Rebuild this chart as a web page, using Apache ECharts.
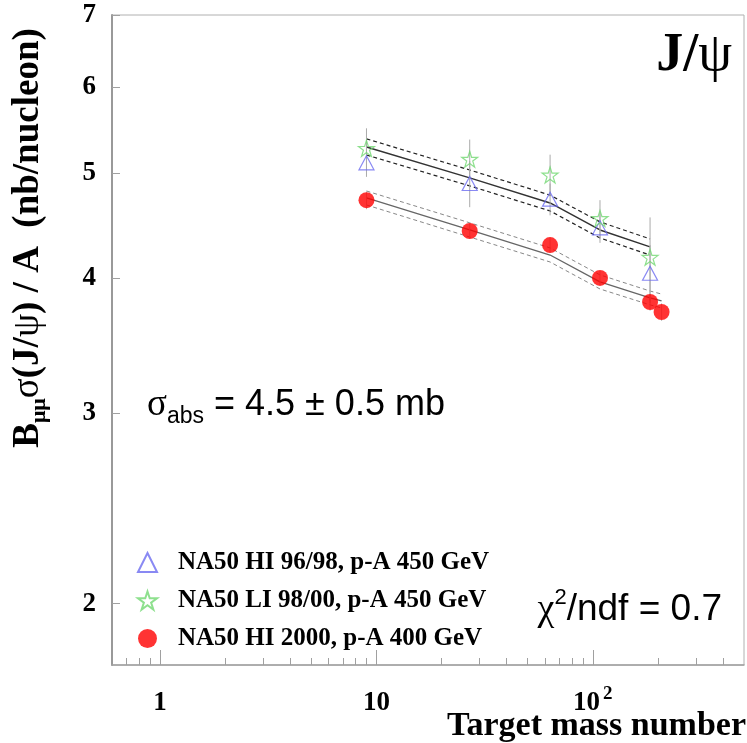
<!DOCTYPE html>
<html><head><meta charset="utf-8">
<script src="https://cdn.jsdelivr.net/npm/echarts@6/dist/echarts.min.js"></script>
<style>html,body{margin:0;padding:0;background:#fff}#c{width:747px;height:743px}</style>
</head><body><div id="c"></div>
<script>
// ---- data ----
const massNumbers450 = [9, 27, 63.5, 108, 184];
const massNumbers400 = [9, 27, 63.5, 108, 184, 208];
const hi9698 = [5.11, 4.89, 4.73, 4.45, 4.04];
const hi9698Err = [0.15, 0.24, 0.16, 0.14, 0.25];
const li9800 = [5.27, 5.15, 4.98, 4.54, 4.18];
const li9800Err = [0.23, 0.22, 0.22, 0.18, 0.37];
const hi2000 = [4.72, 4.42, 4.29, 4.00, 3.80, 3.72];
const hi2000Err = [0.09, 0.07, 0.07, 0.06, 0.07, 0.07];
const fit450 = [5.285, 4.949, 4.692, 4.430, 4.273];
const fit450Hi = [5.378, 5.033, 4.771, 4.507, 4.346];
const fit450Lo = [5.196, 4.866, 4.613, 4.355, 4.200];
const fit400 = [4.742, 4.430, 4.200, 3.966, 3.833, 3.810];
const fit400Hi = [4.813, 4.498, 4.264, 4.026, 3.890, 3.865];
const fit400Lo = [4.672, 4.364, 4.138, 3.907, 3.777, 3.753];
const xMajorTicks = [1, 10, 100];
const xMinorTicks = [0.7, 0.8, 0.9, 2, 3, 4, 5, 6, 7, 8, 9, 20, 30, 40, 50, 60, 70, 80, 90, 200, 300, 400];
const yTicks = [2, 3, 4, 5, 6, 7];
const legendNames = ['NA50 HI 96/98, p-A 450 GeV', 'NA50 LI 98/00, p-A 450 GeV', 'NA50 HI 2000, p-A 400 GeV'];

const SERIF = '"Liberation Serif", "DejaVu Serif", serif';
const SANS = '"Liberation Sans", Arial, sans-serif';
const STAR = 'path://M50 0 L61.2 34.55 L97.55 34.55 L68.1 55.9 L79.4 90.45 L50 69.1 L20.6 90.45 L31.9 55.9 L2.45 34.55 L38.8 34.55 Z';

const pairs = (xs, ys) => xs.map((x, i) => [x, ys[i]]);

function errSeries(xs, ys, es, color) {
  return {
    type: 'custom', silent: true, z: 3,
    data: xs.map((x, i) => [x, ys[i] - es[i], ys[i] + es[i]]),
    encode: { x: 0, y: [1, 2] },
    renderItem(params, api) {
      const p1 = api.coord([api.value(0), api.value(1)]);
      const p2 = api.coord([api.value(0), api.value(2)]);
      return { type: 'line', shape: { x1: p1[0], y1: p1[1], x2: p2[0], y2: p2[1] },
               style: { stroke: color, lineWidth: 1 } };
    }
  };
}
function lineSeries(xs, ys, color, width, type) {
  return { type: 'line', data: pairs(xs, ys), symbol: 'none', silent: true, z: 2,
           lineStyle: { color: color, width: width, type: type } };
}

const chart = echarts.init(document.getElementById('c'), null, { renderer: 'canvas' });
chart.setOption({
  animation: false,
  backgroundColor: '#fff',
  grid: { left: 112, top: 15, right: 3, bottom: 78, show: true, borderColor: '#b0b0b0', borderWidth: 1 },
  xAxis: [
    { type: 'log', min: 0.6, max: 500, position: 'bottom',
      axisLine: { show: true, lineStyle: { color: '#a0a0a0', width: 1.5 } },
      axisTick: { show: true, inside: true, length: 15, customValues: xMajorTicks, lineStyle: { color: '#a0a0a0', width: 1 } },
      axisLabel: { show: true, customValues: xMajorTicks, margin: 20,
        formatter: v => v >= 100 ? '{b|10}{s|2}' : '{b|' + v + '}',
        rich: { b: { fontFamily: SERIF, fontWeight: 'bold', fontSize: 27, color: '#000', lineHeight: 32, verticalAlign: 'bottom' },
                s: { fontFamily: SERIF, fontWeight: 'bold', fontSize: 19, color: '#000', lineHeight: 32, verticalAlign: 'top', padding: [0, 0, 0, 3] } } },
      splitLine: { show: false }, minorTick: { show: false } },
    { type: 'log', min: 0.6, max: 500, position: 'bottom',
      axisLine: { show: false },
      axisTick: { show: true, inside: true, length: 7, customValues: xMinorTicks, lineStyle: { color: '#a0a0a0', width: 1 } },
      axisLabel: { show: false },
      splitLine: { show: false } }
  ],
  yAxis: {
    type: 'log', min: 1.755, max: 7,
    axisLine: { show: true, lineStyle: { color: '#999', width: 2 } },
    axisTick: { show: true, inside: true, length: 8, customValues: yTicks, lineStyle: { color: '#a0a0a0', width: 1 } },
    axisLabel: { show: true, customValues: yTicks, margin: 16, fontFamily: SERIF, fontWeight: 'bold', fontSize: 27, color: '#000' },
    splitLine: { show: false }
  },
  legend: {
    orient: 'vertical', left: 132, top: 545, itemWidth: 19, itemHeight: 19, itemGap: 13,
    data: legendNames,
    textStyle: { fontFamily: SERIF, fontWeight: 'bold', fontSize: 25, color: '#000', lineHeight: 25, padding: [0, 0, 0, 16] }
  },
  series: [
    lineSeries(massNumbers450, fit450Hi, '#222', 1.2, [4, 3]),
    lineSeries(massNumbers450, fit450, '#333', 1.5, 'solid'),
    lineSeries(massNumbers450, fit450Lo, '#222', 1.2, [4, 3]),
    lineSeries(massNumbers400, fit400Hi, '#888', 1, [4, 3]),
    lineSeries(massNumbers400, fit400, '#666', 1.3, 'solid'),
    lineSeries(massNumbers400, fit400Lo, '#888', 1, [4, 3]),
    errSeries(massNumbers450, li9800, li9800Err, '#aaa'),
    errSeries(massNumbers450, hi9698, hi9698Err, '#aaa'),
    errSeries(massNumbers400, hi2000, hi2000Err, '#bbb'),
    { name: legendNames[0], type: 'scatter', z: 5, data: pairs(massNumbers450, hi9698), symbol: 'triangle', symbolSize: [15, 14],
      itemStyle: { color: 'rgba(0,0,0,0)', borderColor: '#6b6bf0', borderWidth: 1.2 } },
    { name: legendNames[1], type: 'scatter', z: 5, data: pairs(massNumbers450, li9800), symbol: STAR, symbolSize: 16,
      itemStyle: { color: 'rgba(0,0,0,0)', borderColor: '#72d872', borderWidth: 1.2 } },
    { name: legendNames[2], type: 'scatter', z: 6, data: pairs(massNumbers400, hi2000), symbol: 'circle', symbolSize: 16,
      itemStyle: { color: '#ff0000' } }
  ],
  graphic: [
    { type: 'text', x: 28, y: 238, rotation: Math.PI / 2,
      style: { text: '{b|B}{sub|μμ}{g|σ}{b|(J/}{g|ψ}{b|) / A  (nb/nucleon)}', align: 'center', verticalAlign: 'middle',
        rich: { b: { fontFamily: SERIF, fontWeight: 'bold', fontSize: 37, fill: '#000', lineHeight: 44, verticalAlign: 'middle' },
                g: { fontFamily: SERIF, fontSize: 37, fill: '#000', lineHeight: 44, verticalAlign: 'middle' },
                sub: { fontFamily: SERIF, fontWeight: 'bold', fontSize: 22, fill: '#000', lineHeight: 44, verticalAlign: 'bottom' } } } },
    { type: 'text', x: 746, y: 726,
      style: { text: 'Target mass number', font: 'bold 34px ' + SERIF, fill: '#000', align: 'right', verticalAlign: 'middle' } },
    { type: 'text', x: 732, y: 56,
      style: { text: '{b|J/}{g|ψ}', align: 'right', verticalAlign: 'middle',
        rich: { b: { fontFamily: SERIF, fontWeight: 'bold', fontSize: 54, fill: '#000' },
                g: { fontFamily: SERIF, fontSize: 54, fill: '#000' } } } },
    { type: 'text', x: 147, y: 405,
      style: { text: '{s|σ}{sub|abs}{t| = 4.5 ± 0.5 mb}', align: 'left', verticalAlign: 'middle',
        rich: { s: { fontFamily: SERIF, fontSize: 37, fill: '#000', lineHeight: 46, verticalAlign: 'middle' },
                sub: { fontFamily: SANS, fontSize: 23, fill: '#000', lineHeight: 46, verticalAlign: 'bottom' },
                t: { fontFamily: SANS, fontSize: 36, fill: '#000', lineHeight: 46, verticalAlign: 'middle' } } } },
    { type: 'text', x: 722, y: 610,
      style: { text: '{c|χ}{sup|2}{t|/ndf = 0.7}', align: 'right', verticalAlign: 'middle',
        rich: { c: { fontFamily: SERIF, fontSize: 38, fill: '#000', lineHeight: 46, verticalAlign: 'middle' },
                sup: { fontFamily: SANS, fontSize: 22, fill: '#000', lineHeight: 46, verticalAlign: 'top' },
                t: { fontFamily: SANS, fontSize: 37, fill: '#000', lineHeight: 46, verticalAlign: 'middle' } } } }
  ]
});
</script>
</body></html>
